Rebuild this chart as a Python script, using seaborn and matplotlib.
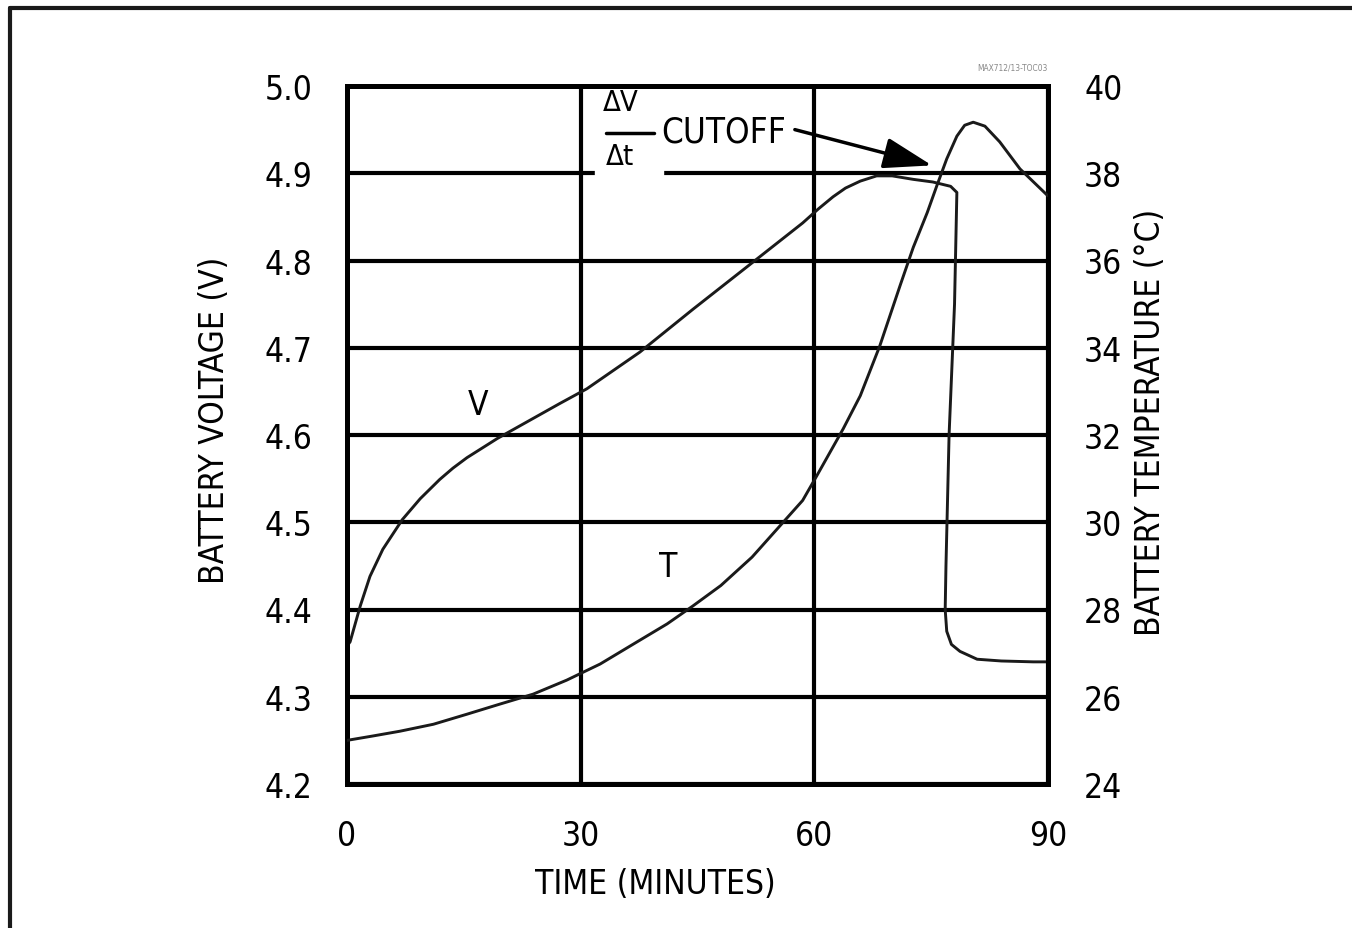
import matplotlib
matplotlib.use('Agg')
import matplotlib.pyplot as plt
import seaborn as sns
import pandas as pd
from matplotlib.patches import Rectangle
from matplotlib.lines import Line2D

## DATA
time_v = [0, 0.4, 1.7, 2.95, 4.6, 7.1, 9.4, 11.9, 13.6, 15.4, 19.3, 23.1, 27.3, 30.8, 37.6,
          44.4, 52.1, 58.5, 60.5, 62.4, 64, 65.9, 68, 70, 72.7, 75.2, 77.5, 78.3, 78.0, 77.3,
          76.9, 76.8, 77.0, 77.6, 78.7, 80.9, 84, 88.1, 90]
volt = [4.358, 4.363, 4.404, 4.438, 4.469, 4.503, 4.527, 4.549, 4.562, 4.574, 4.596, 4.615,
        4.636, 4.653, 4.695, 4.744, 4.798, 4.843, 4.859, 4.873, 4.883, 4.891, 4.897, 4.897,
        4.893, 4.89, 4.885, 4.878, 4.75, 4.60, 4.45, 4.40, 4.375, 4.36, 4.352, 4.343, 4.341,
        4.340, 4.340]

time_t = [0, 3.3, 6.8, 11.1, 15.4, 19.6, 23.9, 28.2, 32.5, 36.7, 41.1, 44.4, 48, 52, 55, 58.5,
          60.3, 63.7, 65.9, 68.4, 71.0, 72.7, 74.5, 75.7, 77.0, 78.3, 79.3, 80.4, 81.9, 83.8,
          86.4, 90]
temp = [25.0, 25.1, 25.21, 25.37, 25.6, 25.83, 26.06, 26.38, 26.75, 27.2, 27.67, 28.08, 28.55,
        29.2, 29.8, 30.5, 31.06, 32.14, 32.9, 34.04, 35.42, 36.3, 37.1, 37.7, 38.33, 38.85,
        39.1, 39.17, 39.08, 38.72, 38.1, 37.48]

x_ticks = [0, 30, 60, 90]
v_ticks = [4.2, 4.3, 4.4, 4.5, 4.6, 4.7, 4.8, 4.9, 5.0]
v_ticklabels = ['4.2', '4.3', '4.4', '4.5', '4.6', '4.7', '4.8', '4.9', '5.0']
t_ticks = [24, 26, 28, 30, 32, 34, 36, 38, 40]

df_v = pd.DataFrame({'time': time_v, 'volt': volt})
df_t = pd.DataFrame({'time': time_t, 'temp': temp})

## STYLE
sns.set_style('white')
plt.rcParams['font.family'] = ['Liberation Sans Narrow', 'DejaVu Sans']
plt.rcParams['font.stretch'] = 'condensed'
plt.rcParams['text.color'] = 'black'
plt.rcParams['xtick.color'] = 'black'
plt.rcParams['ytick.color'] = 'black'

fig = plt.figure(figsize=(13.52, 9.29), dpi=100)
ax = fig.add_axes([347/1352, 1-785/929, 701/1352, 698/929])
ax2 = ax.twinx()

line_kw = dict(color='#1a1a1a', linewidth=2.1, sort=False, estimator=None)
sns.lineplot(data=df_v, x='time', y='volt', ax=ax, zorder=4, **line_kw)
sns.lineplot(data=df_t, x='time', y='temp', ax=ax2, zorder=4, **line_kw)

#### Axes setup
ax.set_xlim(0, 90)
ax.set_ylim(4.2, 5.0)
ax2.set_ylim(24, 40)
ax.set_xticks(x_ticks)
ax.set_yticks(v_ticks)
ax.set_yticklabels(v_ticklabels)
ax2.set_yticks(t_ticks)
ax.set_xlabel('')
ax.set_ylabel('')
ax2.set_ylabel('')
ax.grid(True, color='black', linewidth=3)
ax.set_axisbelow(True)
for a in (ax, ax2):
    for s in a.spines.values():
        s.set_linewidth(3.6)
        s.set_color('black')
        s.set_visible(True)
ax.tick_params(axis='both', length=0, pad=25, labelsize=24)
ax2.tick_params(axis='y', length=0, pad=26, labelsize=24)

#### Annotations
ax.add_patch(Rectangle((31.8, 4.892), 8.8, 0.016, color='white', zorder=2.5))
ax.text(35.1, 4.982, 'ΔV', fontsize=21, ha='center', va='center', zorder=5)
ax.plot([33.3, 39.4], [4.946, 4.946], color='black', linewidth=2.5, zorder=5)
ax.text(35.1, 4.92, 'Δt', fontsize=21, ha='center', va='center', zorder=5)
ax.text(40.4, 4.948, 'CUTOFF', fontsize=25, ha='left', va='center', zorder=5)
ax.annotate('', xy=(75.1, 4.909), xytext=(57.5, 4.950),
            arrowprops=dict(arrowstyle='-|>,head_length=1.0,head_width=0.32',
                            mutation_scale=30, lw=2.5, color='black',
                            shrinkA=0, shrinkB=0), zorder=5)
ax.text(16.8, 4.635, 'V', fontsize=24, ha='center', va='center', zorder=5)
ax.text(41.2, 4.449, 'T', fontsize=24, ha='center', va='center', zorder=5)

#### Labels
fig.text(215/1352, 1-420/929, 'BATTERY VOLTAGE (V)', rotation=90, fontsize=24,
         ha='center', va='center')
fig.text(1150/1352, 1-422/929, 'BATTERY TEMPERATURE (°C)', rotation=90, fontsize=24,
         ha='center', va='center')
fig.text(655/1352, 1-885/929, 'TIME (MINUTES)', fontsize=24, ha='center', va='center')
fig.text(1048/1352, 1-68/929, 'MAX712/13-TOC03', fontsize=6, color='#888888',
         ha='right', va='center')

#### Page frame (top and left only)
fig.add_artist(Line2D([10/1352, 1], [1-9/929, 1-9/929], color='#1a1a1a', linewidth=3))
fig.add_artist(Line2D([10/1352, 10/1352], [0, 1-9/929], color='#1a1a1a', linewidth=3))

fig.savefig('out.png', dpi=100)
